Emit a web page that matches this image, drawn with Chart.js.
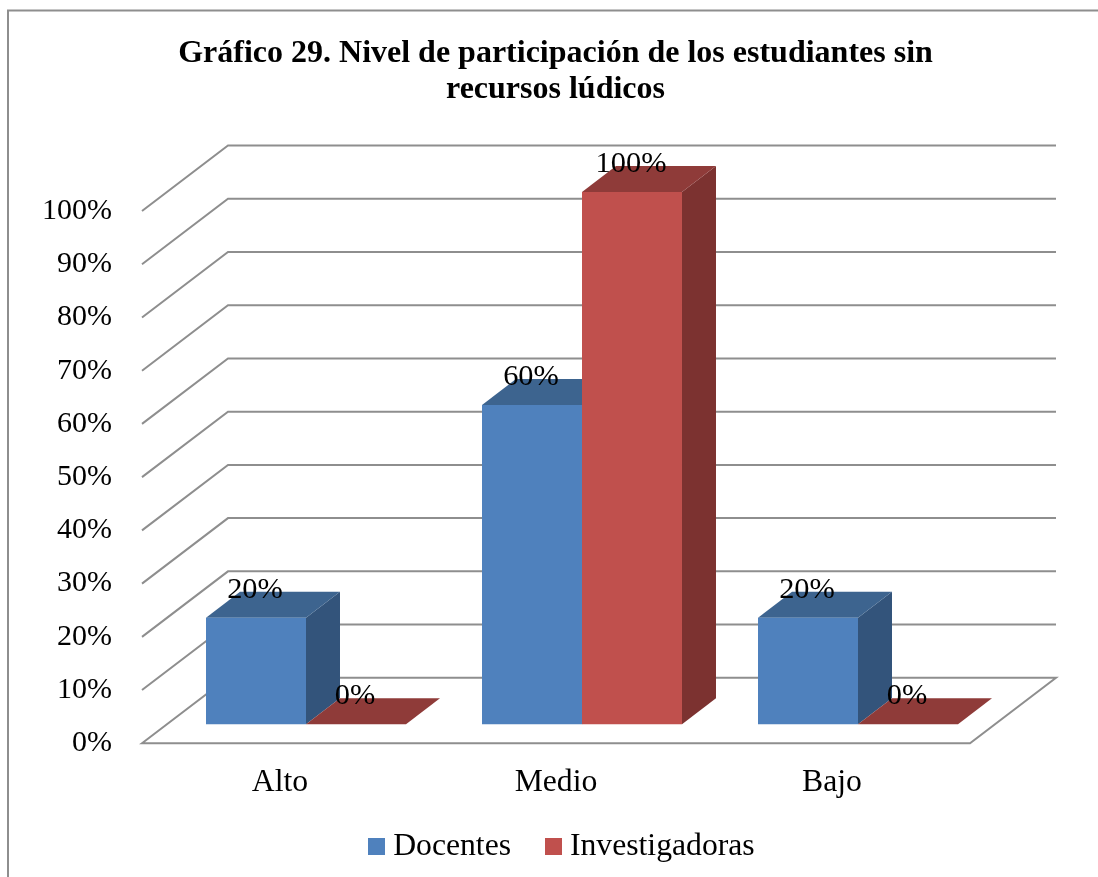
<!DOCTYPE html>
<html lang="es">
<head>
<meta charset="utf-8">
<title>Gráfico 29</title>
<script src="https://cdn.jsdelivr.net/npm/chart.js@4/dist/chart.umd.min.js"></script>
<style>html,body{margin:0;padding:0;background:#fff}canvas{display:block}</style>
</head>
<body>
<canvas id="c" width="1098" height="877"></canvas>
<script>
const categories = ['Alto', 'Medio', 'Bajo'];
const docentes = [20, 60, 20];
const investigadoras = [0, 100, 0];
const titleLines = ['Gráfico 29. Nivel de participación de los estudiantes sin', 'recursos lúdicos'];
const FONT = '"Liberation Serif", "Times New Roman", serif';
const GRID = '#8e8e8e';
const faces = [
  { front: '#4F81BD', top: '#3D648F', side: '#33547B' },
  { front: '#C0504D', top: '#8F3B39', side: '#7C3230' }
];
const WALL = { dx: 86, dy: -65.5 };
const BAR_OFF = { dx: 26, dy: -19 };
const BAR_DEPTH = { dx: 34, dy: -26 };

function poly(ctx, pts, fill) {
  ctx.beginPath();
  pts.forEach((p, i) => i ? ctx.lineTo(p[0], p[1]) : ctx.moveTo(p[0], p[1]));
  ctx.closePath();
  ctx.fillStyle = fill;
  ctx.fill();
}

const pseudo3d = {
  id: 'pseudo3d',
  afterLayout(chart) {
    chart.titleBlock.left = 0;
    chart.titleBlock.right = 1111;
    chart.legend.left = 0;
    chart.legend.right = 1131;
    chart.legend.top = 789;
  },
  beforeDraw(chart) {
    const ctx = chart.ctx;
    const a = chart.chartArea, y = chart.scales.y;
    ctx.save();
    ctx.strokeStyle = GRID;
    ctx.lineWidth = 2;
    ctx.beginPath();
    ctx.moveTo(8, 877); ctx.lineTo(8, 10.5); ctx.lineTo(1098, 10.5);
    ctx.stroke();
    y.ticks.forEach(t => {
      const p = y.getPixelForValue(t.value);
      ctx.beginPath();
      ctx.moveTo(a.left, p);
      ctx.lineTo(a.left + WALL.dx, p + WALL.dy);
      ctx.lineTo(a.right + WALL.dx, p + WALL.dy);
      if (t.value === 0) { ctx.lineTo(a.right, p); ctx.closePath(); }
      ctx.stroke();
    });
    ctx.restore();
  },
  beforeDatasetsDraw(chart) {
    const ctx = chart.ctx;
    ctx.save();
    ctx.translate(BAR_OFF.dx, BAR_OFF.dy);
    chart.data.datasets.forEach((ds, i) => {
      chart.getDatasetMeta(i).data.forEach(el => {
        const l = el.x - el.width / 2, r = el.x + el.width / 2, t = el.y, b = el.base;
        const dx = BAR_DEPTH.dx, dy = BAR_DEPTH.dy;
        poly(ctx, [[r, t], [r + dx, t + dy], [r + dx, b + dy], [r, b]], faces[i].side);
        poly(ctx, [[l, t], [r, t], [r + dx, t + dy], [l + dx, t + dy]], faces[i].top);
      });
    });
  },
  afterDatasetsDraw(chart) {
    const ctx = chart.ctx;
    ctx.restore();
    ctx.save();
    ctx.font = '30.4px ' + FONT;
    ctx.fillStyle = '#000';
    ctx.textAlign = 'center';
    ctx.textBaseline = 'middle';
    chart.data.datasets.forEach((ds, i) => {
      chart.getDatasetMeta(i).data.forEach((el, j) => {
        ctx.fillText(ds.data[j] + '%', el.x + BAR_OFF.dx - 1, el.y + BAR_OFF.dy - 28);
      });
    });
    ctx.restore();
  }
};

function swatch(color) {
  const s = document.createElement('canvas');
  s.width = 17; s.height = 17;
  const g = s.getContext('2d');
  g.fillStyle = color;
  g.fillRect(0, 0, 17, 17);
  return s;
}

new Chart(document.getElementById('c'), {
  type: 'bar',
  data: {
    labels: categories,
    datasets: [
      { label: 'Docentes', data: docentes, backgroundColor: faces[0].front, clip: false },
      { label: 'Investigadoras', data: investigadoras, backgroundColor: faces[1].front, clip: false }
    ]
  },
  options: {
    responsive: false,
    animation: false,
    events: [],
    categoryPercentage: 0.7246,
    barPercentage: 1,
    layout: { padding: { left: 0, right: 128, top: 0, bottom: -20 } },
    plugins: {
      tooltip: { enabled: false },
      title: {
        display: true,
        text: titleLines,
        color: '#000',
        font: { family: FONT, size: 32, weight: 'bold', lineHeight: 36 / 32 },
        padding: { top: 36, bottom: 103 }
      },
      legend: {
        position: 'bottom',
        labels: {
          color: '#000',
          font: { family: FONT, size: 31.7 },
          padding: 42,
          usePointStyle: true,
          pointStyleWidth: 1,
          boxHeight: 17,
          generateLabels(chart) {
            return chart.data.datasets.map((ds, i) => ({
              text: ds.label,
              datasetIndex: i,
              fontColor: '#000',
              lineWidth: 0,
              pointStyle: swatch(ds.backgroundColor)
            }));
          }
        }
      }
    },
    scales: {
      x: {
        grid: { display: false },
        border: { display: false },
        ticks: { color: '#000', font: { family: FONT, size: 31.7 }, padding: 12, maxRotation: 0 },
        afterFit(s) { s.height = 70; }
      },
      y: {
        min: 0,
        max: 100,
        grid: { display: false },
        border: { display: false },
        ticks: {
          stepSize: 10,
          color: '#000',
          font: { family: FONT, size: 30 },
          padding: 22,
          callback: v => v + '%'
        },
        afterFit(s) { s.width = 142; }
      }
    }
  },
  plugins: [pseudo3d]
});
</script>
</body>
</html>
